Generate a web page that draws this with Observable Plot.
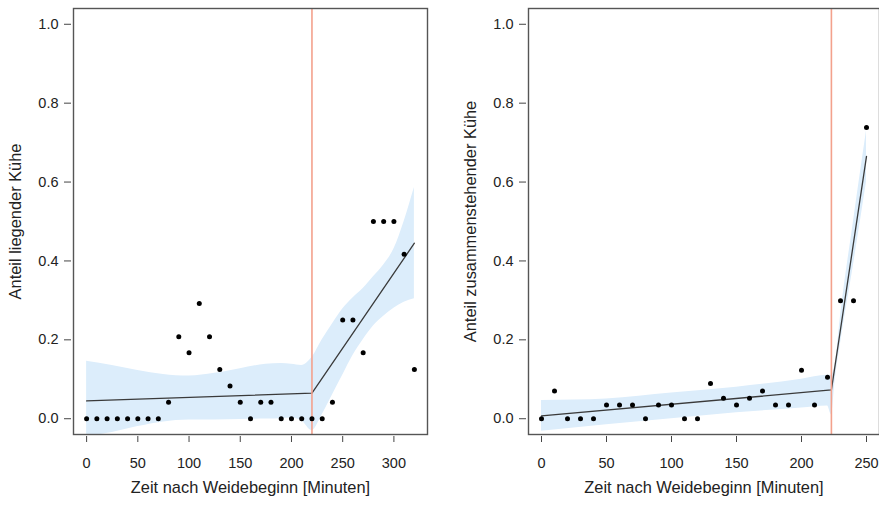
<!DOCTYPE html>
<html><head><meta charset="utf-8">
<script src="https://cdn.jsdelivr.net/npm/d3@7"></script>
<script src="https://cdn.jsdelivr.net/npm/@observablehq/plot@0.6"></script>
<style>
body{margin:0;background:#fff;}
#wrap{display:flex;width:879px;height:506px;overflow:hidden;}
svg{display:block;flex:none;}
</style></head><body><div id="wrap"></div>
<script>
// ---------- Left panel: Anteil liegender Kühe ----------
const leftTime  = [0,10,20,30,40,50,60,70,80,90,100,110,120,130,140,150,160,170,180,190,200,210,220,230,240,250,260,270,280,290,300,310,320];
const leftShare = [0,0,0,0,0,0,0,0,0.042,0.208,0.167,0.292,0.208,0.125,0.083,0.042,0,0.042,0.042,0,0,0,0,0,0.042,0.25,0.25,0.167,0.5,0.5,0.5,0.417,0.125];
const leftFitX  = [0,220,320];
const leftFitY  = [0.045,0.065,0.445];
const leftBandX  = [0,25,50,75,100,125,150,175,190,200,210,220,230,240,250,260,270,280,290,300,310,320];
const leftBandLo = [-0.045,-0.035,-0.02,-0.008,-0.003,-0.003,-0.002,-0.001,0.0,0.002,-0.005,-0.03,0.01,0.06,0.11,0.16,0.2,0.235,0.26,0.28,0.295,0.304];
const leftBandHi = [0.146,0.135,0.122,0.112,0.108,0.115,0.127,0.138,0.14,0.138,0.135,0.155,0.2,0.24,0.278,0.306,0.33,0.36,0.39,0.43,0.5,0.586];
const leftBreak = 220;
const leftTicks = [0,50,100,150,200,250,300];

// ---------- Right panel: Anteil zusammenstehender Kühe ----------
const rightTime  = [0,10,20,30,40,50,60,70,80,90,100,110,120,130,140,150,160,170,180,190,200,210,220,230,240,250];
const rightShare = [0,0.07,0,0,0,0.035,0.035,0.035,0,0.035,0.035,0,0,0.089,0.052,0.035,0.052,0.07,0.035,0.035,0.123,0.035,0.105,0.299,0.299,0.738];
const rightFitX  = [0,223,250];
const rightFitY  = [0.007,0.073,0.665];
const rightBandX  = [0,50,100,150,200,220,223,226,230,240,250];
const rightBandLo = [-0.032,-0.015,0.0,0.015,0.027,0.032,0.01,0.1,0.19,0.39,0.6];
const rightBandHi = [0.046,0.05,0.065,0.08,0.1,0.11,0.11,0.14,0.26,0.5,0.73];
const rightBreak = 223;
const rightTicks = [0,50,100,150,200,250];

const yTicks = [0,0.2,0.4,0.6,0.8,1.0];
const xLabel = "Zeit nach Weidebeginn [Minuten]";

const zipPts = (xs, ys) => xs.map((x, i) => ({x, y: ys[i]}));
const zipBand = (xs, lo, hi) => xs.map((x, i) => ({x, lo: lo[i], hi: hi[i]}));

function panel({width, marginLeft, marginRight, xDomain, xTicks, pts, fit, band, brk, yLabel}) {
  return Plot.plot({
    width, height: 506,
    marginLeft, marginRight, marginTop: 8, marginBottom: 72,
    style: {fontFamily: "'Liberation Sans', Arial, sans-serif", fontSize: "14.5px", color: "#222", background: "#fff"},
    x: {domain: xDomain},
    y: {domain: [-0.04, 1.04]},
    marks: [
      Plot.areaY(band, {x: "x", y1: "lo", y2: "hi", fill: "#dcedfb", curve: "monotone-x", clip: true}),
      Plot.line(fit, {x: "x", y: "y", stroke: "#3a3a3a", strokeWidth: 1.3}),
      Plot.ruleX([brk], {stroke: "#f3a18c", strokeWidth: 1.6}),
      Plot.dot(pts, {x: "x", y: "y", r: 2.5, fill: "#000", stroke: null}),
      Plot.frame({stroke: "#555", strokeWidth: 1.4}),
      Plot.axisX({ticks: xTicks, tickSize: 6, tickPadding: 15, dy: 2, label: null, fontSize: 14.5, stroke: "#444"}),
      Plot.axisY({ticks: yTicks, tickSize: 7, tickPadding: 6, dx: -2, label: null, tickFormat: d3.format(".1f"), fontSize: 14.5, stroke: "#444"}),
      Plot.text([yLabel], {frameAnchor: "left", textAnchor: "middle", dx: -58, rotate: -90, fontSize: 16.4, fill: "#222"}),
      Plot.text([xLabel], {frameAnchor: "bottom", textAnchor: "middle", dy: 58, fontSize: 16.4, fill: "#222"})
    ]
  });
}

const wrap = document.getElementById("wrap");
wrap.appendChild(panel({
  width: 440, marginLeft: 73, marginRight: 13,
  xDomain: [-12.8, 332.8], xTicks: leftTicks,
  pts: zipPts(leftTime, leftShare), fit: zipPts(leftFitX, leftFitY),
  band: zipBand(leftBandX, leftBandLo, leftBandHi), brk: leftBreak,
  yLabel: "Anteil liegender Kühe"
}));
wrap.appendChild(panel({
  width: 439, marginLeft: 88, marginRight: 0,
  xDomain: [-10, 260], xTicks: rightTicks,
  pts: zipPts(rightTime, rightShare), fit: zipPts(rightFitX, rightFitY),
  band: zipBand(rightBandX, rightBandLo, rightBandHi), brk: rightBreak,
  yLabel: "Anteil zusammenstehender Kühe"
}));
</script></body></html>
